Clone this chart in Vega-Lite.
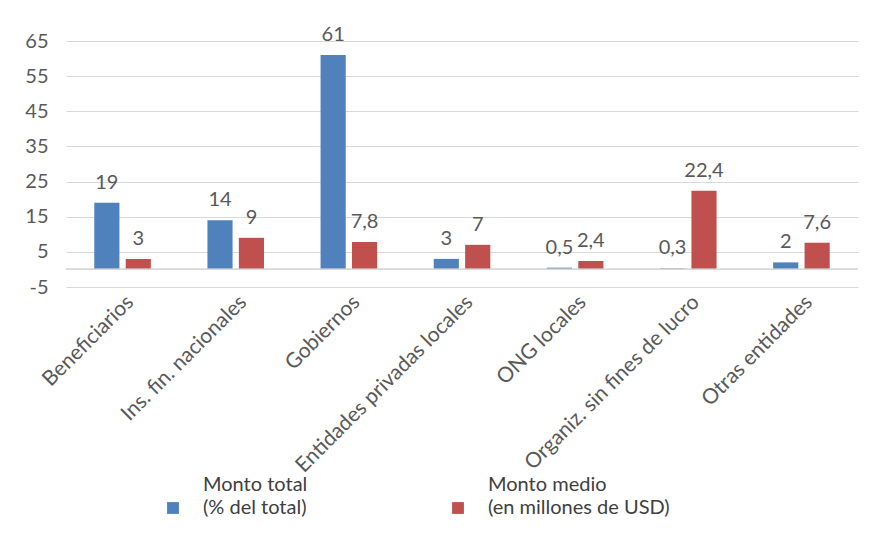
{
  "$schema": "https://vega.github.io/schema/vega-lite/v6.json",
  "width": 792,
  "height": 246,
  "autosize": {"type": "none"},
  "padding": {"left": 66, "top": 41, "right": 12, "bottom": 247},
  "background": "white",
  "config": {
    "view": {"stroke": null},
    "font": "Lato",
    "locale": {"number": {"decimal": ",", "thousands": ".", "grouping": [3], "currency": ["", ""], "minus": "-"}},
    "axisY": {"grid": true, "gridColor": "#d9d9d9", "gridWidth": 1, "labelOverlap": false, "labelFontSize": 20, "labelColor": "#595959", "labelPadding": 18, "ticks": false, "domain": false, "title": null},
    "axisX": {"grid": false, "labelAngle": -45, "labelFontSize": 21, "labelColor": "#595959", "labelPadding": 4, "ticks": false, "domain": false, "labelLimit": 400, "labelOverlap": false, "title": null}
  },
  "data": {
    "values": [
      {"categoria": "Beneficiarios", "serie": "Monto total", "valor": 19},
      {"categoria": "Beneficiarios", "serie": "Monto medio", "valor": 3},
      {"categoria": "Ins. fin. nacionales", "serie": "Monto total", "valor": 14},
      {"categoria": "Ins. fin. nacionales", "serie": "Monto medio", "valor": 9},
      {"categoria": "Gobiernos", "serie": "Monto total", "valor": 61},
      {"categoria": "Gobiernos", "serie": "Monto medio", "valor": 7.8},
      {"categoria": "Entidades privadas locales", "serie": "Monto total", "valor": 3},
      {"categoria": "Entidades privadas locales", "serie": "Monto medio", "valor": 7},
      {"categoria": "ONG locales", "serie": "Monto total", "valor": 0.5},
      {"categoria": "ONG locales", "serie": "Monto medio", "valor": 2.4},
      {"categoria": "Organiz. sin fines de lucro", "serie": "Monto total", "valor": 0.3},
      {"categoria": "Organiz. sin fines de lucro", "serie": "Monto medio", "valor": 22.4},
      {"categoria": "Otras entidades", "serie": "Monto total", "valor": 2},
      {"categoria": "Otras entidades", "serie": "Monto medio", "valor": 7.6}
    ]
  },
  "layer": [
    {
      "mark": {"type": "bar"},
      "encoding": {
        "x": {
          "field": "categoria", "type": "nominal", "sort": null,
          "scale": {"paddingInner": 0.5, "paddingOuter": 0.25}
        },
        "xOffset": {"field": "serie", "type": "nominal", "sort": ["Monto total", "Monto medio"], "scale": {"paddingInner": 0.2}},
        "y": {
          "field": "valor", "type": "quantitative",
          "scale": {"domain": [-5, 65], "nice": false, "zero": false},
          "axis": {"values": [-5, 5, 15, 25, 35, 45, 55, 65], "tickCount": 10, "format": "d"}
        },
        "y2": {"datum": 0},
        "color": {
          "field": "serie", "type": "nominal",
          "scale": {"domain": ["Monto total", "Monto medio"], "range": ["#4f81bd", "#c0504d"]},
          "legend": {
            "title": null, "orient": "none", "direction": "horizontal",
            "legendX": 97, "legendY": 457, "padding": 0,
            "symbolType": "square", "symbolSize": 140, "symbolStrokeWidth": 0,
            "labelFontSize": 20, "labelColor": "#404040", "labelOffset": 20,
            "columnPadding": 140, "labelLimit": 400,
            "labelExpr": "datum.label == 'Monto total' ? ['Monto total', '(% del total)'] : ['Monto medio', '(en millones de USD)']",
            "encode": {"labels": {"update": {"lineHeight": {"value": 23}, "dy": {"value": -23}}}}
          }
        }
      }
    },
    {
      "mark": {"type": "rule", "color": "#d9d9d9", "strokeWidth": 1},
      "encoding": {"y": {"datum": 0, "type": "quantitative"}}
    },
    {
      "mark": {"type": "text", "baseline": "bottom", "dy": -10, "fontSize": 20, "color": "#595959"},
      "encoding": {
        "x": {"field": "categoria", "type": "nominal", "sort": null},
        "xOffset": {"field": "serie", "type": "nominal", "sort": ["Monto total", "Monto medio"]},
        "y": {"field": "valor", "type": "quantitative"},
        "text": {"field": "valor", "type": "quantitative", "format": ",.1~f"}
      }
    }
  ]
}
